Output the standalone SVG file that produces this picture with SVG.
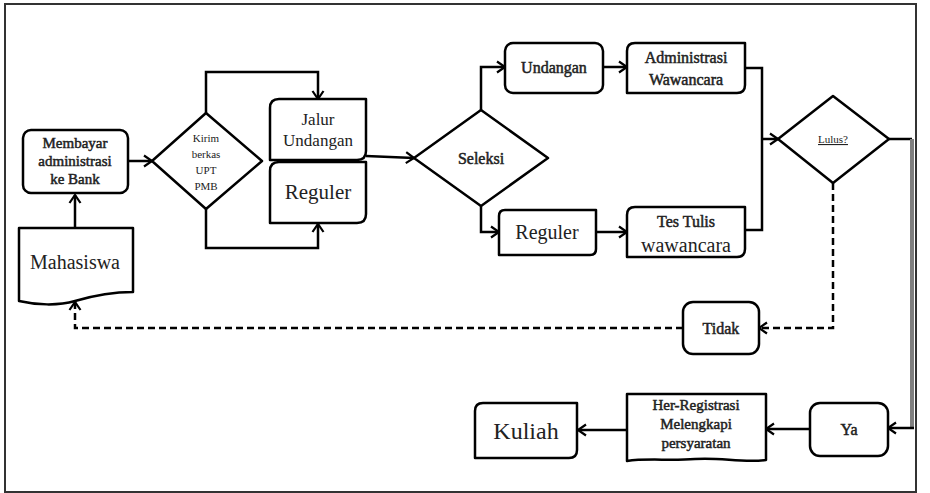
<svg xmlns="http://www.w3.org/2000/svg" width="930" height="493" viewBox="0 0 930 493">
<defs>
<marker id="arr" markerUnits="userSpaceOnUse" markerWidth="14" markerHeight="14" refX="11" refY="7" orient="auto">
<path d="M3,1.5 L11,7 L3,12.5" fill="none" stroke="#000" stroke-width="2.2"/>
</marker>
</defs>
<style>
.s{fill:#fff;stroke:#000;stroke-width:2.5;stroke-linejoin:round}
.c{fill:none;stroke:#000;stroke-width:2.5}
.d{fill:none;stroke:#000;stroke-width:2.5;stroke-dasharray:7,4}
.t{font-family:"Liberation Serif","DejaVu Serif",serif;fill:#222;text-anchor:middle}
.b{stroke:#222;stroke-width:0.5}
</style>
<rect x="5" y="4" width="911" height="488" fill="#fff" stroke="#333" stroke-width="2"/>
<g id="connectors">
<path class="c" d="M75,228 V195" marker-end="url(#arr)"/>
<path class="c" d="M128,161 H152" marker-end="url(#arr)"/>
<path class="c" d="M206,113 V72 H318 V99" marker-end="url(#arr)"/>
<path class="c" d="M206,209 V248 H318 V224" marker-end="url(#arr)"/>
<path class="c" d="M366,156 L414,158" marker-end="url(#arr)"/>
<path class="c" d="M481,110 V67 H505" marker-end="url(#arr)"/>
<path class="c" d="M481,206 V232 H499" marker-end="url(#arr)"/>
<path class="c" d="M603,67 H627" marker-end="url(#arr)"/>
<path class="c" d="M596,232 H627" stroke-width="3.5" marker-end="url(#arr)"/>
<path class="c" d="M745,68 H762 V230 H745"/>
<path class="c" d="M762,139 H778" marker-end="url(#arr)"/>
<path class="c" d="M889,139 H912"/>
<path fill="none" stroke="#808080" stroke-width="4" d="M912,139 V428"/>
<path class="c" d="M914,428 H888" marker-end="url(#arr)"/>
<path class="d" d="M833,183 V328 H759" marker-end="url(#arr)"/>
<path class="d" d="M683,328 H75 V302" marker-end="url(#arr)"/>
<path class="c" d="M810,429 H766" marker-end="url(#arr)"/>
<path class="c" d="M627,430 H578" marker-end="url(#arr)"/>
</g>
<g id="mahasiswa">
<path class="s" d="M19,228 H133 V292 C112,292 92,296 75,301 C58,306 36,305 19,301 Z"/>
<text class="t" x="75" y="269" font-size="20">Mahasiswa</text>
</g>
<g id="membayar">
<rect class="s" x="23" y="130" width="105" height="63" rx="8"/>
<text class="t b" x="75" y="148" font-size="15">Membayar</text>
<text class="t b" x="75" y="166" font-size="15">administrasi</text>
<text class="t b" x="75" y="184" font-size="15">ke Bank</text>
</g>
<g id="kirim">
<path class="s" d="M206,113 L262,161 L206,209 L152,161 Z"/>
<text class="t" x="206" y="142" font-size="11">Kirim</text>
<text class="t" x="206" y="158" font-size="11">berkas</text>
<text class="t" x="206" y="174" font-size="11">UPT</text>
<text class="t" x="206" y="190" font-size="11">PMB</text>
</g>
<g id="jalur">
<path class="s" d="M270,108 Q270,99 279,99 H366 V151 Q366,160 357,160 H270 Z"/>
<text class="t" x="318" y="125" font-size="17">Jalur</text>
<text class="t" x="318" y="146" font-size="17">Undangan</text>
</g>
<g id="reguler1">
<path class="s" d="M270,171 Q270,162 279,162 H366 V214 Q366,223 357,223 H270 Z"/>
<text class="t" x="318" y="199" font-size="21">Reguler</text>
</g>
<g id="seleksi">
<path class="s" d="M481,110 L548,158 L481,206 L414,158 Z"/>
<text class="t b" x="481" y="164" font-size="16">Seleksi</text>
</g>
<g id="undangan">
<rect class="s" x="505" y="43" width="98" height="50" rx="8"/>
<text class="t b" x="554" y="73" font-size="16">Undangan</text>
</g>
<g id="reguler2">
<path class="s" d="M499,216 Q499,210 505,210 H596 V249 Q596,255 590,255 H499 Z"/>
<text class="t" x="547" y="239" font-size="20">Reguler</text>
</g>
<g id="admin">
<path class="s" d="M627,51 Q627,43 635,43 H745 V85 Q745,93 737,93 H627 Z"/>
<text class="t b" x="686" y="63" font-size="16">Administrasi</text>
<text class="t b" x="686" y="85" font-size="16">Wawancara</text>
</g>
<g id="tes">
<path class="s" d="M627,215 Q627,207 635,207 H745 V249 Q745,257 737,257 H627 Z"/>
<text class="t b" x="686" y="227" font-size="16">Tes Tulis</text>
<text class="t" x="686" y="252" font-size="20">wawancara</text>
</g>
<g id="lulus">
<path class="s" d="M833,96 L889,139 L833,183 L778,139 Z"/>
<text class="t" x="833" y="143" font-size="11" text-decoration="underline">Lulus?</text>
</g>
<g id="tidak">
<rect class="s" x="683" y="302" width="76" height="52" rx="10"/>
<text class="t b" x="721" y="334" font-size="16">Tidak</text>
</g>
<g id="ya">
<rect class="s" x="810" y="403" width="78" height="53" rx="10"/>
<text class="t b" x="849" y="435" font-size="16">Ya</text>
</g>
<g id="herregistrasi">
<path class="s" d="M627,394 H766 V460 C742,463 720,457 695,459 C670,461 646,458 627,461 Z"/>
<text class="t b" x="696" y="410" font-size="15">Her-Registrasi</text>
<text class="t b" x="696" y="429" font-size="15">Melengkapi</text>
<text class="t b" x="696" y="448" font-size="15">persyaratan</text>
</g>
<g id="kuliah">
<path class="s" d="M475,411 Q475,403 483,403 H577 V450 Q577,458 569,458 H475 Z"/>
<text class="t" x="526" y="439" font-size="24">Kuliah</text>
</g>
</svg>
